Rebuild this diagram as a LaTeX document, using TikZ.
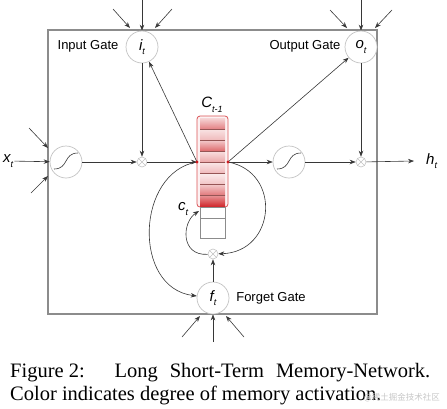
\documentclass[tikz,border=0pt]{standalone}
\usepackage{fontspec}
\setmainfont{Liberation Serif}
\newfontfamily\arialf{Liberation Sans}
\newfontfamily\cjkf{Noto Sans CJK SC}
\usetikzlibrary{arrows.meta}
\definecolor{cellred}{RGB}{205,25,30}
\definecolor{linegray}{RGB}{55,55,55}
\definecolor{boxgray}{RGB}{140,140,140}
\definecolor{circgray}{RGB}{195,195,195}
\definecolor{divcol}{RGB}{150,85,85}
\newcommand{\vlab}[2]{{\arialf\itshape #1\raisebox{-0.3em}{\fontsize{9}{9}\selectfont #2}}}
\begin{document}
\begin{tikzpicture}[x=1pt,y=-1pt,
  arr/.style={draw=linegray, line width=0.6pt, -{Stealth[length=6pt,width=4.5pt]}},
  gate/.style={circle, draw=circgray, line width=0.7pt, fill=white, minimum size=32pt, inner sep=0pt, font=\fontsize{15}{17}\selectfont},
  mult/.style={circle, draw=circgray, line width=0.6pt, fill=white, minimum size=10pt, inner sep=0pt,
    path picture={\draw[circgray, line width=0.6pt] (path picture bounding box.south west) -- (path picture bounding box.north east) (path picture bounding box.north west) -- (path picture bounding box.south east);}},
  gatetxt/.style={font=\arialf\fontsize{13}{15}\selectfont, inner sep=0pt},
  vtxt/.style={inner sep=1pt, font=\fontsize{15}{17}\selectfont},
  sig/.style={draw=linegray, line width=0.6pt}
]
\useasboundingbox (0,0) rectangle (447,408);
% outer box
\draw[boxgray, line width=1.1pt] (48,30) rectangle (377,314);

% memory cell
\draw[cellred!75, line width=0.8pt, rounded corners=3pt, fill=cellred!6] (197,116) rectangle (228,207);
\foreach \k/\a/\b in {0/18/55,1/12/30,2/22/65,3/14/38,4/10/30,5/8/25,6/22/58,7/45/92}{
  \shade[top color=cellred!\a, bottom color=cellred!\b] (200,{118+11*\k}) rectangle (225,{129+11*\k});
}
\foreach \k in {1,...,7}{
  \draw[divcol, line width=0.6pt] (200,{118+11*\k}) -- (225,{118+11*\k});
}
\draw[boxgray, line width=0.7pt, fill=white] (200,207) rectangle (225,218);
\draw[boxgray, line width=0.7pt, fill=white] (200,218) rectangle (225,238);
\coordinate (cl) at (197,162);
\coordinate (cr) at (228,162);
\coordinate (ctin) at (199,211);

% gates
\node[gate] (i) at (142,47) {\vlab{i}{t}};
\node[gate] (o) at (361,47) {\vlab{o}{t}};
\node[gate] (f) at (213,298) {\vlab{f}{t}};
\node[gate] (s1) at (66,162) {};
\node[gate] (s2) at (289,162) {};
\draw[sig] (54,169) .. controls (69,169) and (63,153) .. (78,153);
\draw[sig] (277,169) .. controls (292,169) and (286,153) .. (301,153);
\node[mult] (m1) at (142,162) {};
\node[mult] (m2) at (361,162) {};
\node[mult] (m3) at (213,254) {};

% labels
\node[gatetxt] (lin) at (88,46) {Input Gate};
\node[gatetxt] (lout) at (305,46) {Output Gate};
\node[gatetxt] (lfor) at (271,298) {Forget Gate};
\node[vtxt, anchor=west] (xt) at (2,161) {\vlab{x}{t}};
\node[vtxt, anchor=west] (ht) at (425,161) {\vlab{h}{t}};
\node[vtxt] (cprev) at (212,105) {\vlab{C}{t-1}};
\node[vtxt] (ct) at (183,209) {\vlab{c}{t}};

% incoming arrows
\coordinate (ia) at (142,0);
\coordinate (ib) at (113,9);  \coordinate (ib2) at (130,28);
\coordinate (ic) at (172,9);  \coordinate (ic2) at (155,28);
\draw[arr] (ia) -- (i);
\draw[arr] (ib) -- (ib2);
\draw[arr] (ic) -- (ic2);
\coordinate (oa) at (361,0);
\coordinate (ob) at (330,10); \coordinate (ob2) at (347,28);
\coordinate (oc) at (392,10); \coordinate (oc2) at (375,28);
\draw[arr] (oa) -- (o);
\draw[arr] (ob) -- (ob2);
\draw[arr] (oc) -- (oc2);
\coordinate (fa) at (213,342);
\coordinate (fb) at (182,337); \coordinate (fb2) at (200,316);
\coordinate (fc) at (244,337); \coordinate (fc2) at (226,316);
\draw[arr] (fa) -- (f);
\draw[arr] (fb) -- (fb2);
\draw[arr] (fc) -- (fc2);
\coordinate (sa) at (29,128); \coordinate (sa2) at (48,148);
\coordinate (sb) at (31,193); \coordinate (sb2) at (48,176);
\draw[arr] (sa) -- (sa2);
\draw[arr] (sb) -- (sb2);

% main flow
\draw[arr] (xt) -- (s1);
\draw[arr] (s1) -- (m1);
\draw[arr] (i) -- (m1);
\draw[arr] (m1) -- (cl);
\draw[arr] (cl) -- (i);
\draw[arr] (cr) -- (o);
\draw[arr] (cr) -- (s2);
\draw[arr] (s2) -- (m2);
\draw[arr] (o) -- (m2);
\draw[arr] (m2) -- ([xshift=-11pt]ht.west);
\draw[arr] (f) -- (m3);
% loops
\draw[arr] (cr) .. controls (282,172) and (276,252) .. (m3);
\draw[arr] (m3) .. controls (180,256) and (182,222) .. (ctin);
\draw[arr] (cl) .. controls (136,172) and (132,288) .. (f);
% junction markers
\fill[cellred] (cl) circle (1.6);
\fill[cellred] (cr) circle (1.6);

% caption
\node[anchor=base west, inner sep=0pt, font=\fontsize{20.5}{24}\selectfont] (cap1) at (10,377)
  {\makebox[432pt][l]{Figure 2:\hspace{0pt plus 2.5fil}Long\hspace{0pt plus 1fil}Short-Term\hspace{0pt plus 1fil}Memory-Network.}};
\node[anchor=base west, inner sep=0pt, font=\fontsize{20.5}{24}\selectfont] (cap2) at (10,400)
  {Color indicates degree of memory activation.};
\node[anchor=east, inner sep=0pt, text=black!22, font=\cjkf\fontsize{8.5}{9}\selectfont] (wm) at (440,398) {@稀土掘金技术社区};
\end{tikzpicture}
\end{document}
